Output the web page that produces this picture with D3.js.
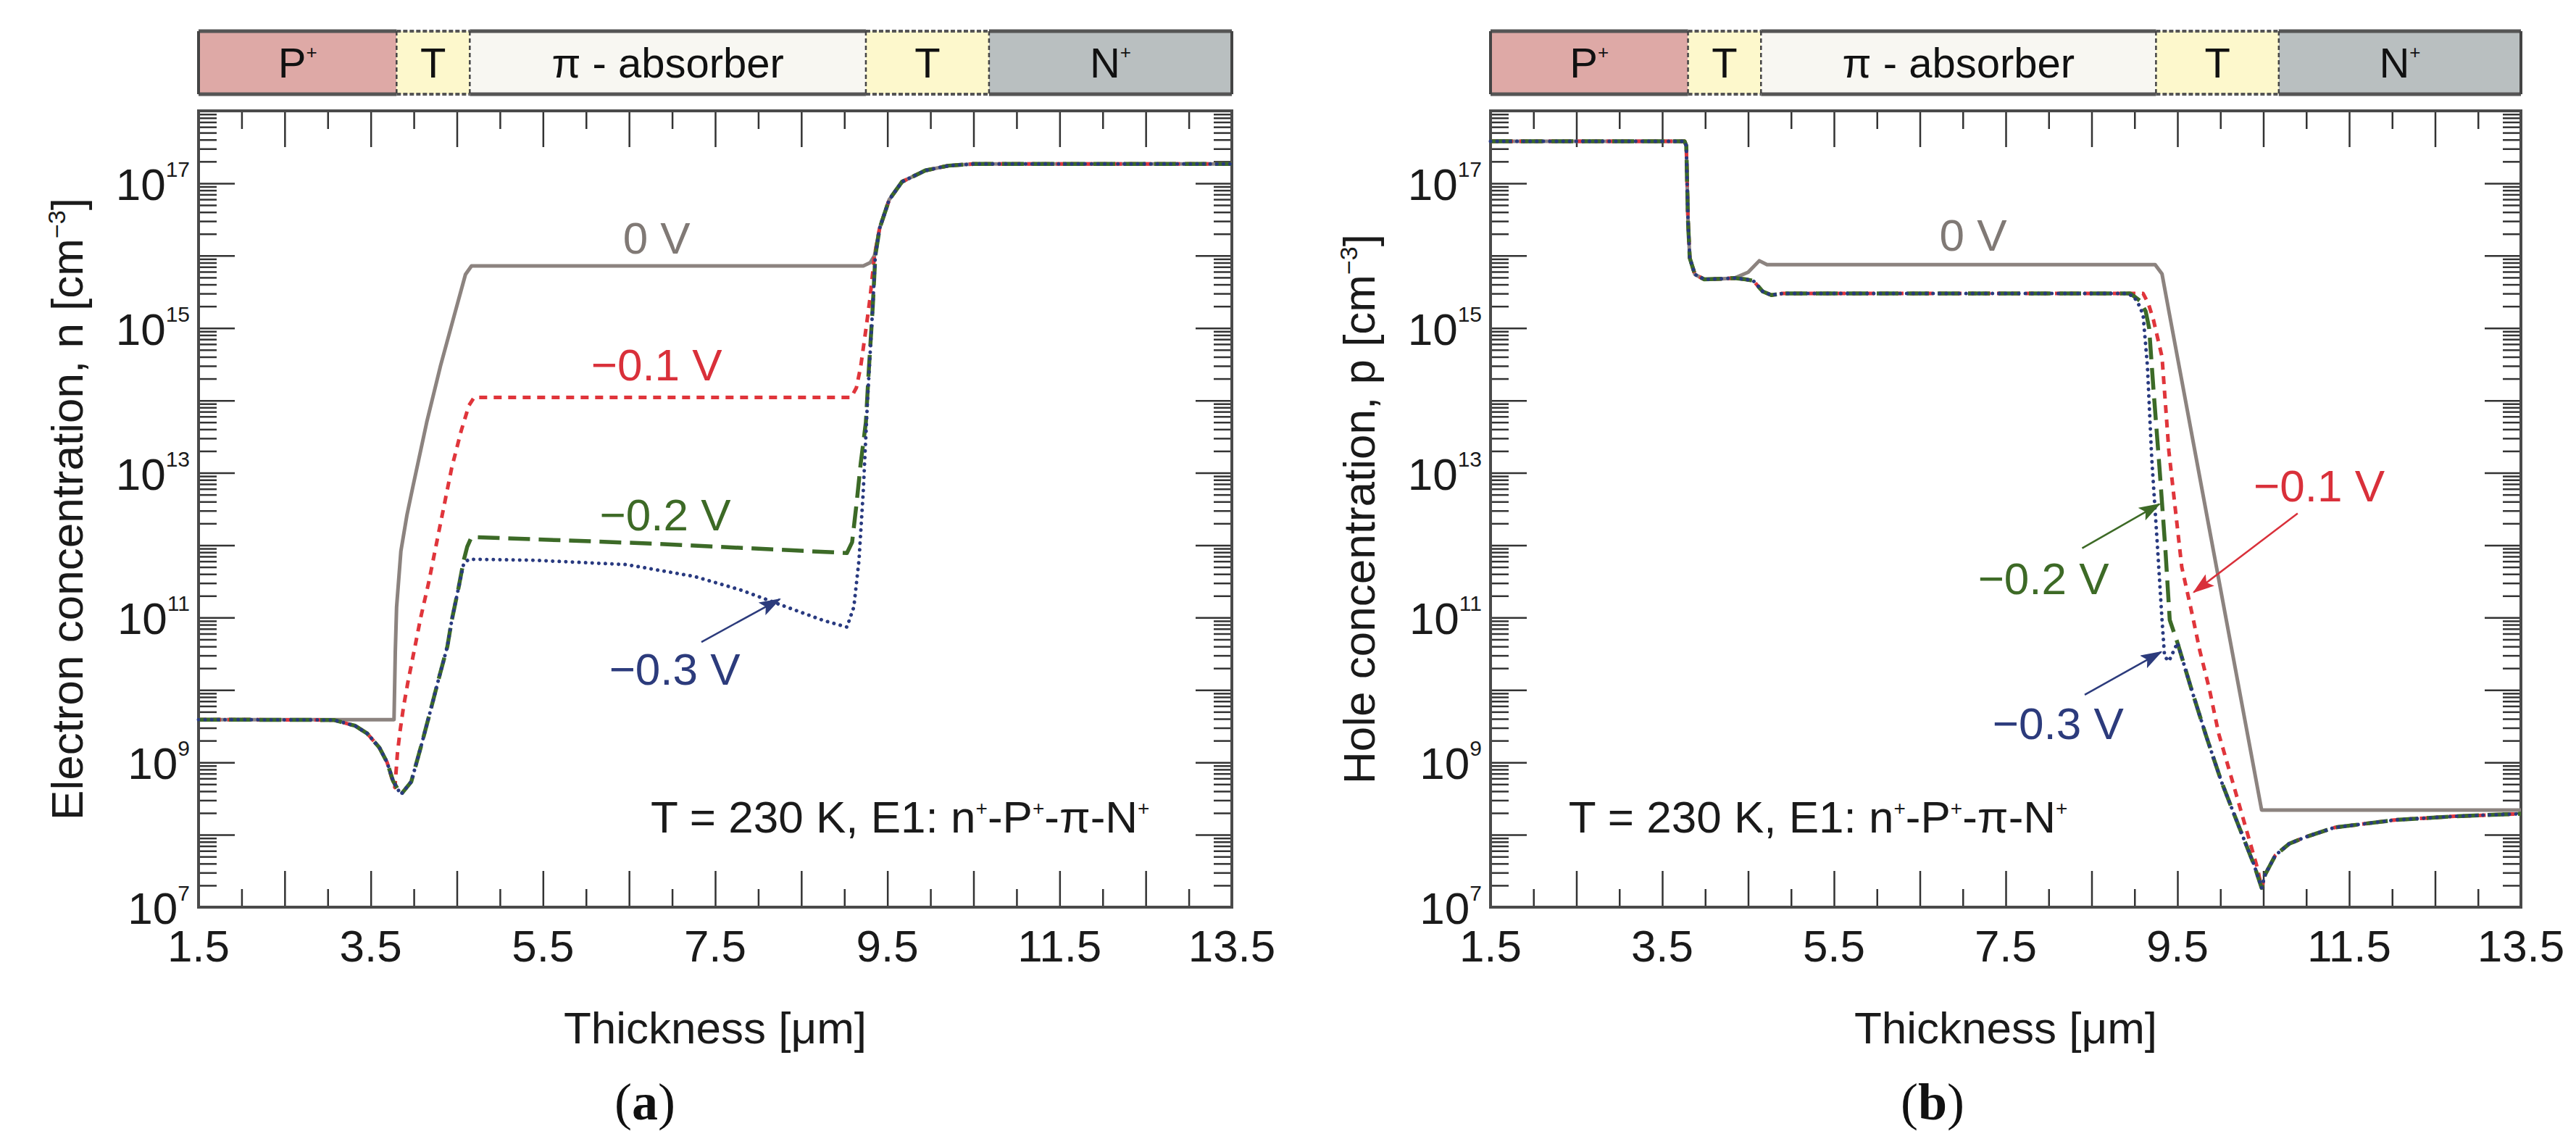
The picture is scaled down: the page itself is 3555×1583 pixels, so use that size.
<!DOCTYPE html>
<html>
<head>
<meta charset="utf-8">
<script src="https://cdn.jsdelivr.net/npm/d3@7"></script>
<style>
  body { margin: 0; background: #fff; }
  svg { display: block; font-family: "Liberation Sans", Arial, sans-serif; }
</style>
</head>
<body>
<svg id="fig" width="3555" height="1583"></svg>
<script>
// ---- data (thickness in µm, concentration in cm^-3) ----
const layerNames = ["P", "T", "π - absorber", "T", "N"];
const layerSup = ["+", "", "", "", "+"];
const layerEdges = [1.5, 3.8, 4.65, 9.25, 10.68, 13.5];

const xTickLabels = [1.5, 3.5, 5.5, 7.5, 9.5, 11.5, 13.5];
const yTickExps = [7, 9, 11, 13, 15, 17];
const voltages = ["0 V", "\u22120.1 V", "\u22120.2 V", "\u22120.3 V"];

// (a) electrons
const elec0V = [[1.5,3.9e9],[3.77,3.9e9],[3.785,3.4e10],[3.80,1.4e11],[3.85,8.3e11],[3.92,2.6e12],[3.99,6.5e12],[4.15,5.0e13],[4.31,3.0e14],[4.47,1.5e15],[4.60,5.5e15],[4.67,7.2e15],
  [9.22,7.2e15],[9.30,8.0e15],[9.35,1.0e16],[9.41,2.4e16],[9.52,5.9e16],[9.67,1.05e17],[9.94,1.5e17],[10.21,1.75e17],[10.5,1.85e17],[13.5,1.85e17]];
const elecM01 = [[1.5,3.9e9],[3.07,3.85e9],[3.32,3.2e9],[3.46,2.5e9],[3.60,1.6e9],[3.69,1.0e9],[3.74,6.3e8],[3.78,4.5e8],[3.81,1.35e9],[3.84,2.7e9],[3.88,5.8e9],[3.93,1.26e10],[3.98,2.5e10],[4.08,1.0e11],[4.17,2.95e11],[4.31,2.0e12],[4.44,1.17e13],[4.55,3.8e13],[4.64,8.5e13],[4.70,1.1e14],
  [9.08,1.1e14],[9.14,1.5e14],[9.19,2.95e14],[9.25,9.5e14],[9.30,2.7e15],[9.35,1.0e16],[9.41,2.4e16],[9.52,5.9e16],[9.67,1.05e17],[9.94,1.5e17],[10.21,1.75e17],[10.5,1.85e17],[13.5,1.85e17]];
const elecM02 = [[1.5,3.9e9],[3.07,3.85e9],[3.32,3.2e9],[3.46,2.5e9],[3.60,1.6e9],[3.69,1.0e9],[3.76,5.5e8],[3.85,3.6e8],[3.97,5.4e8],[4.08,1.6e9],[4.19,5.0e9],[4.30,1.6e10],[4.39,4.0e10],[4.44,9.1e10],[4.52,2.6e11],[4.58,6.2e11],[4.62,9.5e11],[4.67,1.3e12],
  [6.8,1.05e12],[9.03,7.8e11],[9.09,1.1e12],[9.14,3.6e12],[9.19,1.35e13],[9.25,5.0e13],[9.28,2.2e14],[9.33,2.0e15],[9.36,1.0e16],[9.41,2.4e16],[9.52,5.9e16],[9.67,1.05e17],[9.94,1.5e17],[10.21,1.75e17],[10.5,1.85e17],[13.5,1.85e17]];
const elecM03 = [[1.5,3.9e9],[3.07,3.85e9],[3.32,3.2e9],[3.46,2.5e9],[3.60,1.6e9],[3.69,1.0e9],[3.76,5.5e8],[3.85,3.6e8],[3.97,5.4e8],[4.08,1.6e9],[4.19,5.0e9],[4.30,1.6e10],[4.39,4.0e10],[4.44,9.1e10],[4.52,2.6e11],[4.58,5.6e11],[4.64,6.4e11],
  [5.4,6.2e11],[6.47,5.4e11],[7.26,3.7e11],[7.80,2.4e11],[8.33,1.4e11],[8.76,9.1e10],[9.03,7.4e10],[9.11,1.4e11],[9.17,6.2e11],[9.22,5.6e12],[9.27,1.05e14],[9.33,2.0e15],[9.36,1.0e16],[9.41,2.4e16],[9.52,5.9e16],[9.67,1.05e17],[9.94,1.5e17],[10.21,1.75e17],[10.5,1.85e17],[13.5,1.85e17]];

// (b) holes
const hole0V = [[1.5,3.8e17],[3.76,3.8e17],[3.78,3.3e17],[3.79,9.8e16],[3.80,3.0e16],[3.82,9.3e15],[3.88,5.5e15],[3.99,4.7e15],[4.2,4.8e15],[4.34,4.9e15],[4.50,5.9e15],[4.63,8.5e15],[4.72,7.5e15],
  [9.24,7.5e15],[9.32,5.6e15],[9.38,2.3e15],[10.48,2.2e8],[13.5,2.2e8]];
const hole01 = [[1.5,3.8e17],[3.76,3.8e17],[3.78,3.3e17],[3.79,9.8e16],[3.80,3.0e16],[3.82,9.3e15],[3.88,5.5e15],[3.99,4.7e15],[4.2,4.8e15],[4.34,4.9e15],[4.47,4.7e15],[4.56,4.5e15],[4.67,3.2e15],[4.77,2.85e15],[4.9,3.0e15],
  [9.10,3.0e15],[9.16,2.2e15],[9.22,1.3e15],[9.32,4.0e14],[9.40,2.0e13],[9.55,5.0e11],[9.68,1.0e11],[9.76,3.5e10],[9.87,1.05e10],[9.98,2.5e9],[10.15,5.0e8],[10.27,1.6e8],[10.43,3.5e7],[10.48,1.85e7],
  [10.52,2.8e7],[10.64,5.2e7],[10.80,7.5e7],[10.99,9.3e7],[11.33,1.26e8],[12.03,1.6e8],[12.73,1.8e8],[13.5,1.95e8]];
const hole02 = [[1.5,3.8e17],[3.76,3.8e17],[3.78,3.3e17],[3.79,9.8e16],[3.80,3.0e16],[3.82,9.3e15],[3.88,5.5e15],[3.99,4.7e15],[4.2,4.8e15],[4.34,4.9e15],[4.47,4.7e15],[4.56,4.5e15],[4.67,3.2e15],[4.77,2.85e15],[4.9,3.0e15],
  [8.95,3.0e15],[9.06,2.4e15],[9.13,1.7e15],[9.17,1.0e15],[9.22,1.45e14],[9.29,1.2e13],[9.36,8.5e11],[9.41,9.3e10],[9.50,4.5e10],[9.66,1.05e10],[9.83,2.4e9],[10.01,5.5e8],[10.22,1.26e8],[10.39,3.9e7],[10.48,1.85e7],
  [10.52,2.8e7],[10.64,5.2e7],[10.80,7.5e7],[10.99,9.3e7],[11.33,1.26e8],[12.03,1.6e8],[12.73,1.8e8],[13.5,1.95e8]];
const hole03 = [[1.5,3.8e17],[3.76,3.8e17],[3.78,3.3e17],[3.79,9.8e16],[3.80,3.0e16],[3.82,9.3e15],[3.88,5.5e15],[3.99,4.7e15],[4.2,4.8e15],[4.34,4.9e15],[4.47,4.7e15],[4.56,4.5e15],[4.67,3.2e15],[4.77,2.85e15],[4.9,3.0e15],
  [8.90,3.0e15],[8.99,2.75e15],[9.06,2.0e15],[9.10,1.5e15],[9.15,3.0e14],[9.20,1.6e13],[9.27,8.5e11],[9.32,9.3e10],[9.35,2.9e10],[9.40,2.5e10],[9.50,4.5e10],[9.66,1.05e10],[9.83,2.4e9],[10.01,5.5e8],[10.22,1.26e8],[10.39,3.9e7],[10.48,1.85e7],
  [10.52,2.8e7],[10.64,5.2e7],[10.80,7.5e7],[10.99,9.3e7],[11.33,1.26e8],[12.03,1.6e8],[12.73,1.8e8],[13.5,1.95e8]];

// annotation anchors (data units)
const elecLabelAt = [[6.82,1.07e16],[6.82,1.9e14],[6.92,1.6e12],[7.03,1.17e10]];
const holeLabelAt = [[7.12,1.17e16],[11.15,4.0e12],[7.94,2.1e11],[8.11,2.1e9]];
const elecArrows = [{v: 3, from: [7.34,4.6e10], to: [8.25,1.8e11]}];
const holeArrows = [
  {v: 2, from: [8.39,9.1e11], to: [9.29,3.7e12]},
  {v: 3, from: [8.42,8.6e9], to: [9.31,3.35e10]},
  {v: 1, from: [10.90,2.75e12], to: [9.69,2.24e11]}
];
const noteAt = { a: [6.75,1.07e8], b: [2.41,1.07e8] };

// ---- styles ----
const lineColor = ["#8c837f", "#e0353b", "#3c6a27", "#293a80"];
const labelColor = ["#807975", "#d9303a", "#3d6a26", "#2c3b7c"];
const dash = [null, "11,9", "30,12", "0.1,9"];
const lineW = [5, 5, 5.5, 5];
const layerFill = ["#dea9a6", "#fdf8cc", "#f8f7f2", "#fdf8cc", "#b9bfc0"];

const barTop = 43, barBottom = 130;
const plotTop = 153, plotBottom = 1252;
const fs = 62;

const svg = d3.select("#fig");

// arrow heads
const defs = svg.append("defs");
lineColor.forEach((c, i) => {
  defs.append("marker")
    .attr("id", "ah" + i)
    .attr("markerUnits", "userSpaceOnUse")
    .attr("viewBox", "0 0 30 20")
    .attr("refX", 28).attr("refY", 10)
    .attr("markerWidth", 30).attr("markerHeight", 20)
    .attr("orient", "auto")
    .append("path").attr("d", "M0,0 L30,10 L0,20 L6,10 Z").attr("fill", labelColor[i]);
});

// base text followed by a raised superscript (nothing after it)
function addSup(text, base, sup, supSize, rise) {
  text.append("tspan").text(base);
  if (sup) text.append("tspan").attr("font-size", supSize).attr("dy", -rise).text(sup);
}

// "T = 230 K, E1: n+-P+-π-N+" with the shift back carried by the next real run
function noteText(g, x, y) {
  const t = g.append("text").attr("x", x).attr("y", y)
    .attr("font-size", fs).attr("fill", "#1a1a1a");
  const runs = ["T = 230 K, E1: n", "-P", "-\u03c0-N"];
  runs.forEach((r, i) => {
    t.append("tspan").attr("dy", i === 0 ? null : 24).text(r);
    t.append("tspan").attr("font-size", 28).attr("dy", -24).text("+");
  });
}

function drawPanel(p) {
  const x = d3.scaleLinear().domain([1.5, 13.5]).range([p.left, p.right]);
  const y = d3.scaleLog().domain([1e7, 1e18]).range([plotBottom, plotTop]);
  const g = svg.append("g");

  // ---- layer strip ----
  layerNames.forEach((name, i) => {
    const x0 = x(layerEdges[i]), x1 = x(layerEdges[i + 1]);
    const isT = name === "T";
    g.append("rect").attr("x", x0).attr("y", barTop).attr("width", x1 - x0)
      .attr("height", barBottom - barTop).attr("fill", layerFill[i]);
    [barTop, barBottom].forEach(yy => {
      g.append("line").attr("x1", x0).attr("x2", x1).attr("y1", yy).attr("y2", yy)
        .attr("stroke", "#555").attr("stroke-width", isT ? 4 : 5)
        .attr("stroke-dasharray", isT ? "6,3" : null);
    });
    const t = g.append("text").attr("x", (x0 + x1) / 2).attr("y", 107)
      .attr("text-anchor", "middle").attr("font-size", 58).attr("fill", "#111");
    addSup(t, name, layerSup[i], 26, 26);
  });
  layerEdges.forEach((e, i) => {
    const inner = i > 0 && i < layerEdges.length - 1;
    g.append("line").attr("x1", x(e)).attr("x2", x(e)).attr("y1", barTop).attr("y2", barBottom)
      .attr("stroke", "#444").attr("stroke-width", inner ? 2.5 : 4)
      .attr("stroke-dasharray", inner ? "6,4" : null);
  });

  // ---- ticks ----
  const majorY = d3.range(7, 19).map(e => Math.pow(10, e));
  const minorY = [];
  d3.range(7, 18).forEach(e => d3.range(2, 10).forEach(k => minorY.push(k * Math.pow(10, e))));
  const longX = d3.range(2.5, 13, 1);
  const shortX = d3.range(2, 14, 1);

  const tickStyle = sel => {
    sel.select(".domain").remove();
    sel.selectAll("line").attr("stroke", "#333").attr("stroke-width", 2.5);
  };
  g.append("g").attr("transform", `translate(${p.left},0)`)
    .call(d3.axisLeft(y).tickValues(majorY).tickSize(-50).tickFormat("")).call(tickStyle);
  g.append("g").attr("transform", `translate(${p.left},0)`)
    .call(d3.axisLeft(y).tickValues(minorY).tickSize(-25).tickFormat("")).call(tickStyle);
  g.append("g").attr("transform", `translate(${p.right},0)`)
    .call(d3.axisRight(y).tickValues(majorY).tickSize(-50).tickFormat("")).call(tickStyle);
  g.append("g").attr("transform", `translate(${p.right},0)`)
    .call(d3.axisRight(y).tickValues(minorY).tickSize(-25).tickFormat("")).call(tickStyle);
  g.append("g").attr("transform", `translate(0,${plotBottom})`)
    .call(d3.axisBottom(x).tickValues(longX).tickSize(-50).tickFormat("")).call(tickStyle);
  g.append("g").attr("transform", `translate(0,${plotBottom})`)
    .call(d3.axisBottom(x).tickValues(shortX).tickSize(-25).tickFormat("")).call(tickStyle);
  g.append("g").attr("transform", `translate(0,${plotTop})`)
    .call(d3.axisTop(x).tickValues(longX).tickSize(-50).tickFormat("")).call(tickStyle);
  g.append("g").attr("transform", `translate(0,${plotTop})`)
    .call(d3.axisTop(x).tickValues(shortX).tickSize(-25).tickFormat("")).call(tickStyle);

  // frame
  g.append("rect").attr("x", p.left).attr("y", plotTop)
    .attr("width", p.right - p.left).attr("height", plotBottom - plotTop)
    .attr("fill", "none").attr("stroke", "#4a4a4a").attr("stroke-width", 4);

  // tick labels
  g.selectAll(".xl").data(xTickLabels).join("text")
    .attr("x", d => x(d)).attr("y", plotBottom + 75)
    .attr("text-anchor", "middle").attr("font-size", fs).attr("fill", "#1a1a1a")
    .text(d => d.toFixed(1));
  g.selectAll(".yl").data(yTickExps).join("text")
    .attr("x", p.left - 12).attr("y", d => y(Math.pow(10, d)) + 23)
    .attr("text-anchor", "end").attr("font-size", fs).attr("fill", "#1a1a1a")
    .each(function (d) { addSup(d3.select(this), "10", String(d), 30, 32); });

  // axis titles
  const yt = g.append("text")
    .attr("transform", `translate(${p.left - 160},${(plotTop + plotBottom) / 2}) rotate(-90)`)
    .attr("text-anchor", "middle").attr("font-size", fs).attr("fill", "#1a1a1a");
  yt.append("tspan").text(p.title + " [cm");
  yt.append("tspan").attr("font-size", 34).attr("dy", -24).text("\u22123");
  yt.append("tspan").attr("dy", 24).text("]");

  g.append("text").attr("x", (p.left + p.right) / 2).attr("y", 1440)
    .attr("text-anchor", "middle").attr("font-size", fs).attr("fill", "#1a1a1a")
    .text("Thickness [\u03bcm]");

  const tag = g.append("text").attr("x", p.tagX).attr("y", 1545)
    .attr("text-anchor", "middle").attr("font-size", 72).attr("fill", "#111")
    .attr("font-family", "'Liberation Serif','DejaVu Serif',serif");
  tag.append("tspan").text("(");
  tag.append("tspan").attr("font-weight", "bold").text(p.tag);
  tag.append("tspan").text(")");

  // ---- curves ----
  const line = d3.line().x(d => x(d[0])).y(d => y(d[1])).curve(d3.curveLinear);
  p.series.forEach((s, i) => {
    g.append("path").attr("d", line(s)).attr("fill", "none")
      .attr("stroke", lineColor[i]).attr("stroke-width", lineW[i])
      .attr("stroke-dasharray", dash[i])
      .attr("stroke-linecap", i === 3 ? "round" : "butt")
      .attr("stroke-linejoin", "round");
  });

  // ---- annotations ----
  p.labelAt.forEach((pos, i) => {
    g.append("text").attr("x", x(pos[0])).attr("y", y(pos[1]))
      .attr("text-anchor", "middle").attr("font-size", fs).attr("fill", labelColor[i])
      .text(voltages[i]);
  });
  p.arrows.forEach(a => {
    g.append("line")
      .attr("x1", x(a.from[0])).attr("y1", y(a.from[1]))
      .attr("x2", x(a.to[0])).attr("y2", y(a.to[1]))
      .attr("stroke", labelColor[a.v]).attr("stroke-width", 2.5)
      .attr("marker-end", `url(#ah${a.v})`);
  });
  noteText(g, x(p.note[0]), y(p.note[1]));
}

drawPanel({ left: 274, right: 1700, series: [elec0V, elecM01, elecM02, elecM03],
  title: "Electron concentration, n", tag: "a", tagX: 890,
  labelAt: elecLabelAt, arrows: elecArrows, note: noteAt.a });
drawPanel({ left: 2057, right: 3479, series: [hole0V, hole01, hole02, hole03],
  title: "Hole concentration, p", tag: "b", tagX: 2667,
  labelAt: holeLabelAt, arrows: holeArrows, note: noteAt.b });
</script>
</body>
</html>
